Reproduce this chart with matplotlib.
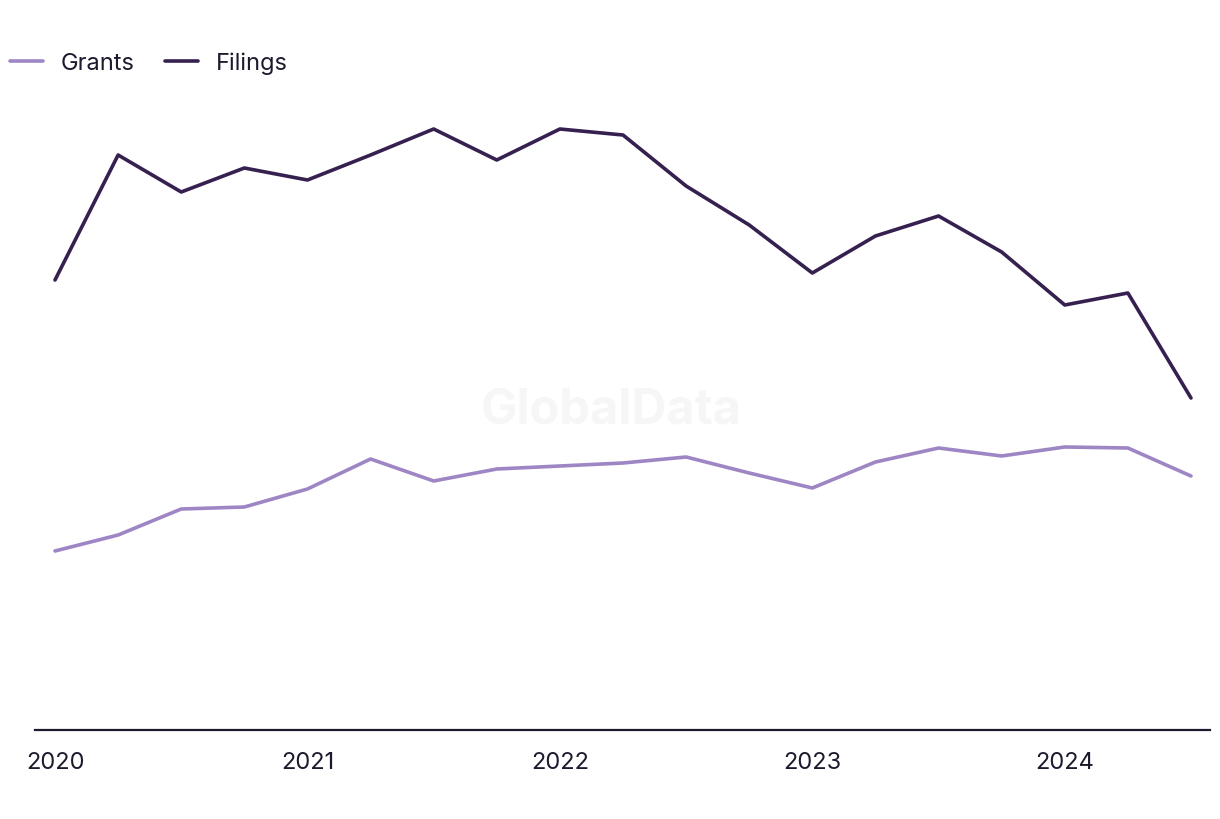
import matplotlib
matplotlib.use("Agg")
import matplotlib.pyplot as plt

quarters = ["2020Q1","2020Q2","2020Q3","2020Q4","2021Q1","2021Q2","2021Q3","2021Q4",
            "2022Q1","2022Q2","2022Q3","2022Q4","2023Q1","2023Q2","2023Q3","2023Q4",
            "2024Q1","2024Q2","2024Q3"]
filings = [450, 575, 538, 562, 550, 575, 601, 570, 601, 595, 544, 505, 457, 494, 514, 478, 425, 437, 332]
grants = [179, 195, 221, 223, 241, 271, 249, 261, 264, 267, 273, 257, 242, 268, 282, 274, 283, 282, 254]
tick_labels = ["2020", "2021", "2022", "2023", "2024"]

plt.rcParams['font.family'] = ['Inter', 'DejaVu Sans']
text_color = "#1c1b2e"

fig = plt.figure(figsize=(12.2, 8.2), dpi=100)
ax = fig.add_axes([35/1220, 89/820, 1175/1220, 630/820])

x = list(range(len(quarters)))
lg, = ax.plot(x, grants, color="#9e86c4", lw=2.6, solid_capstyle="round", label="Grants")
lf, = ax.plot(x, filings, color="#35204f", lw=2.6, solid_capstyle="round", label="Filings")

ax.set_xlim(-20/63.1, 18 + 19/63.1)
ax.set_ylim(0, 630)
ax.set_xticks([i for i, q in enumerate(quarters) if q.endswith("Q1")])
ax.set_xticklabels(tick_labels)
ax.tick_params(axis="x", length=0, pad=15, labelsize=17, labelcolor=text_color)
ax.set_yticks([])
for s in ["top", "right", "left"]:
    ax.spines[s].set_visible(False)
ax.spines["bottom"].set_color(text_color)
ax.spines["bottom"].set_linewidth(1.6)

ax.text(0.49, (730-410)/630, "GlobalData", transform=ax.transAxes, ha="center", va="center",
        fontsize=35, fontweight="bold", color="#f6f6f6", zorder=0)

fig.legend(handles=[lg, lf], loc="center left", bbox_to_anchor=(0.008, 1 - 64/820), ncol=2,
           frameon=False, fontsize=17, labelcolor=text_color, handlelength=1.4,
           handletextpad=0.75, columnspacing=1.3, borderaxespad=0, borderpad=0)

fig.savefig("out.png", dpi=100, facecolor="white")
